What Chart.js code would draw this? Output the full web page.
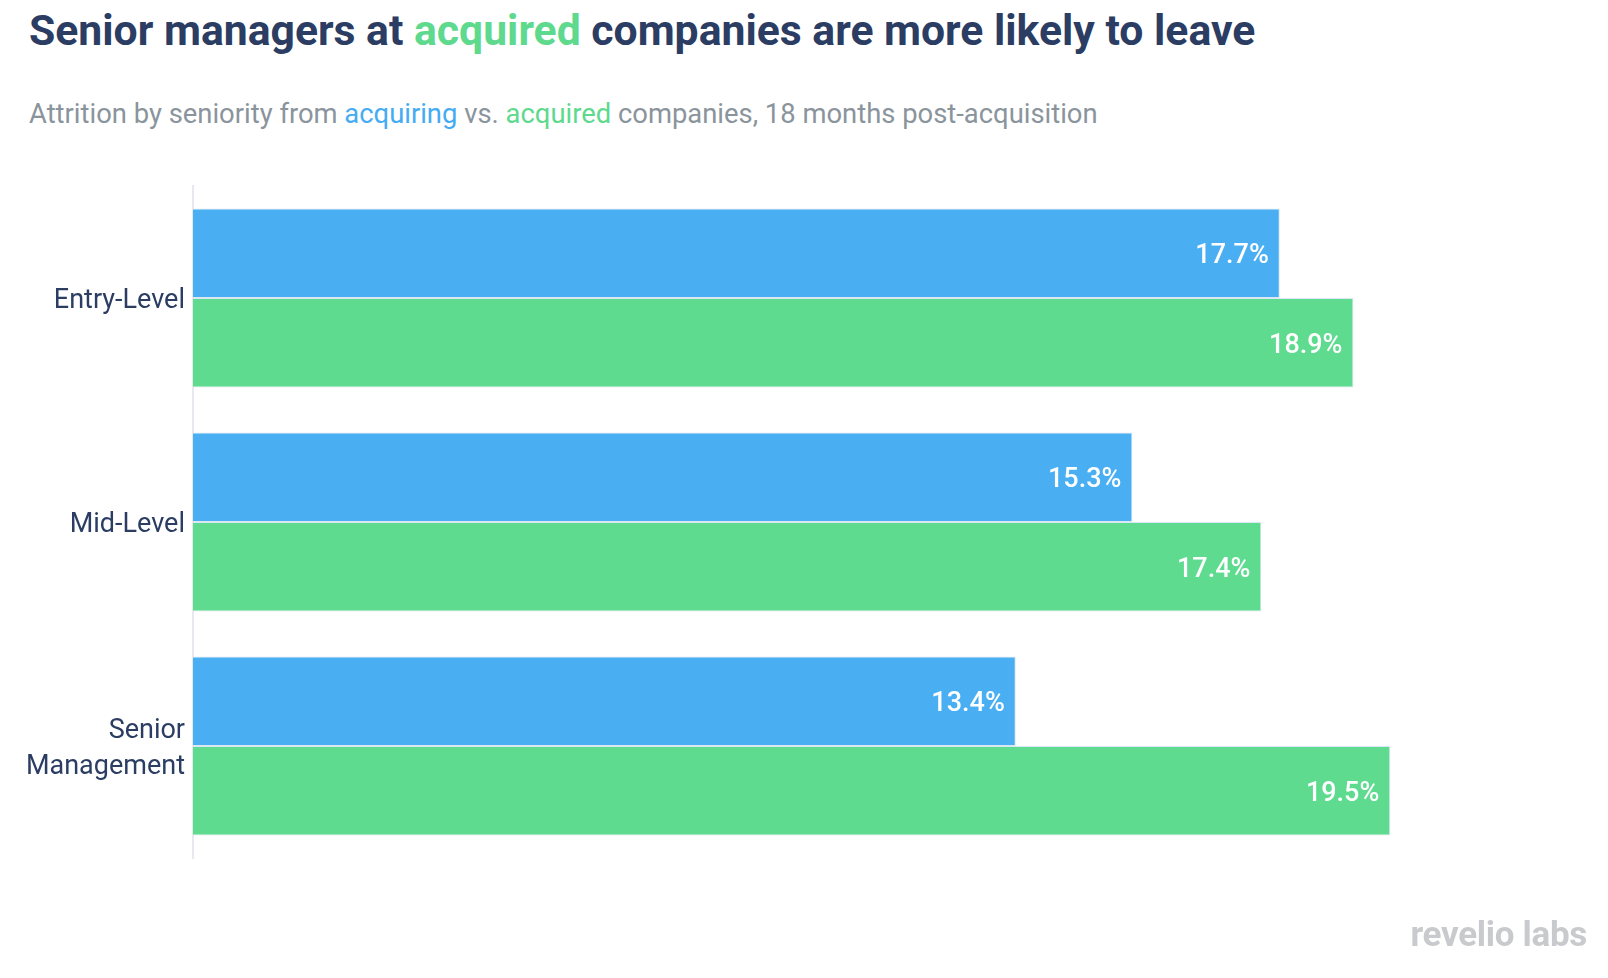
<!DOCTYPE html>
<html lang="en">
<head>
<meta charset="UTF-8">
<title>Senior managers attrition</title>
<script src="https://cdn.jsdelivr.net/npm/chart.js"></script>
<style>
    body { margin: 0; background: #fff; font-family: Roboto, sans-serif; }
    .wrap { position: relative; width: 1608px; height: 978px; }
    .titulo { position: absolute; left: 29px; top: 5px; font-size: 42.7px; font-weight: 700; color: #2b3d62; white-space: nowrap; }
    .sub { position: absolute; left: 29px; top: 98px; font-size: 27.4px; color: #8a949c; white-space: nowrap; }
    .azul { color: #45abf2; }
    .verde { color: #5ed98e; }
    .logo { position: absolute; right: 21px; top: 914px; font-size: 35px; font-weight: 700; color: #c9cacd; letter-spacing: -0.3px; }
    #grafico { position: absolute; left: 0; top: 0; }
</style>
</head>
<body>
<div class="wrap">
    <div class="titulo">Senior managers at <span class="verde">acquired</span> companies are more likely to leave</div>
    <div class="sub">Attrition by seniority from <span class="azul">acquiring</span> vs. <span class="verde">acquired</span> companies, 18 months post-acquisition</div>
    <div style="position:absolute;left:0;top:0;width:1608px;height:978px;">
        <canvas id="grafico"></canvas>
    </div>
    <div class="logo">revelio labs</div>
</div>
<script>
    // dados
    var categorias = [["Entry-Level"], ["Mid-Level"], ["Senior", "Management"]];
    var acquiring = [17.7, 15.3, 13.4];
    var acquired = [18.9, 17.4, 19.5];

    // rótulos brancos dentro da ponta de cada barra
    var rotulosBarras = {
        id: 'rotulosBarras',
        afterDatasetsDraw: function (chart) {
            var ctx = chart.ctx;
            ctx.save();
            ctx.font = '500 27px Roboto';
            ctx.fillStyle = '#ffffff';
            ctx.textAlign = 'right';
            ctx.textBaseline = 'middle';
            chart.data.datasets.forEach(function (ds, i) {
                chart.getDatasetMeta(i).data.forEach(function (bar, j) {
                    ctx.fillText(ds.data[j].toFixed(1) + '%', bar.x - 11, bar.y + 3);
                });
            });
            ctx.restore();
        }
    };

    var ctx = document.getElementById('grafico').getContext('2d');
    var config = {
        type: 'bar',
        data: {
            labels: categorias,
            datasets: [
                {
                    label: 'acquiring',
                    data: acquiring,
                    backgroundColor: '#4aaef3',
                    borderColor: '#dbe7f2',
                    borderWidth: 1,
                    categoryPercentage: 0.8,
                    barPercentage: 1.0
                },
                {
                    label: 'acquired',
                    data: acquired,
                    backgroundColor: '#5fdb90',
                    borderColor: '#dbe7f2',
                    borderWidth: 1,
                    categoryPercentage: 0.8,
                    barPercentage: 1.0
                }
            ]
        },
        options: {
            indexAxis: 'y',
            responsive: true,
            maintainAspectRatio: false,
            animation: false,
            layout: {
                padding: { left: 0, right: 187, top: 186, bottom: 120 }
            },
            plugins: {
                legend: { display: false },
                tooltip: { enabled: false }
            },
            scales: {
                x: {
                    display: false,
                    min: 0,
                    max: 20
                },
                y: {
                    afterFit: function (scale) { scale.width = 193; },
                    grid: { display: false },
                    border: { display: true, color: '#e6e9ee', width: 2 },
                    ticks: {
                        color: '#2b3d62',
                        font: { family: 'Roboto', size: 27, lineHeight: 1.33 },
                        padding: 0,
                        labelOffset: 3
                    }
                }
            }
        },
        plugins: [rotulosBarras]
    };
    var grafico = new Chart(ctx, config);
</script>
</body>
</html>
